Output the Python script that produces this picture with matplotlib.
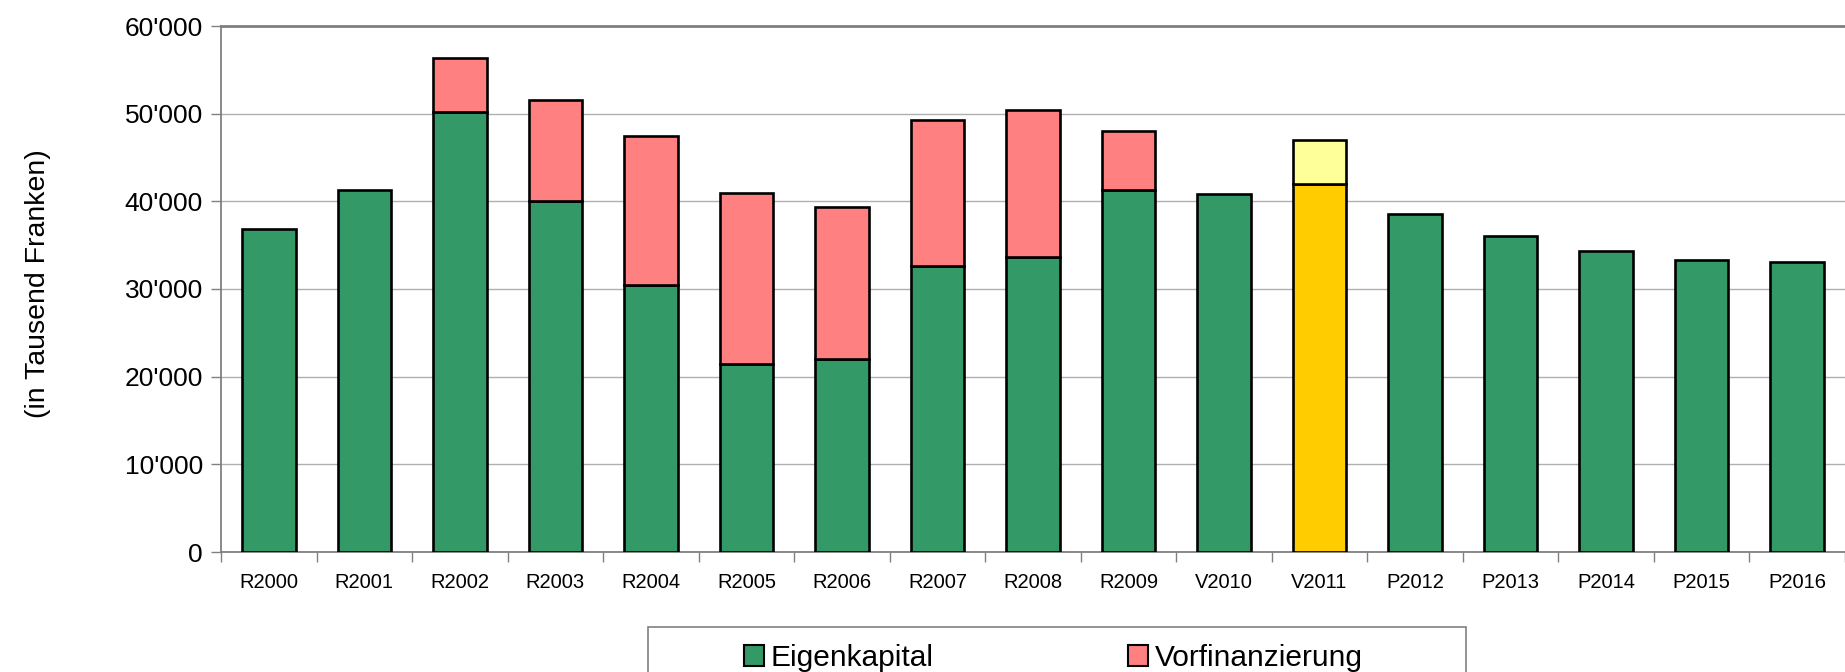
import matplotlib
matplotlib.use("Agg")
import matplotlib.pyplot as plt
from matplotlib.patches import Rectangle, Patch
from matplotlib.ticker import FuncFormatter
import numpy as np

plt.rcParams['font.family'] = ['Liberation Sans', 'DejaVu Sans']

# Jahre / Werte (in Tausend Franken)
labels = ["R2000", "R2001", "R2002", "R2003", "R2004", "R2005", "R2006", "R2007",
          "R2008", "R2009", "V2010", "V2011", "P2012", "P2013", "P2014", "P2015", "P2016"]
eigenkapital = [36800, 41300, 50200, 40000, 30500, 21500, 22000, 32600,
                33700, 41300, 40800, 42000, 38500, 36000, 34300, 33300, 33100]
vorfinanzierung = [0, 0, 6100, 11600, 17000, 19500, 17400, 16700,
                   16700, 6700, 0, 5000, 0, 0, 0, 0, 0]

green = "#339966"
pink = "#FF8080"
orange = "#FFCC00"
yellow = "#FFFF99"

# V2011 ist farblich hervorgehoben
col_ek = [orange if l == "V2011" else green for l in labels]
col_vf = [yellow if l == "V2011" else pink for l in labels]

W, H = 1845, 672
fig = plt.figure(figsize=(W / 100, H / 100), dpi=100)
ax = fig.add_axes([221 / W, 1 - 552 / H, 1 - 221 / W, (552 - 26) / H])

x = np.arange(len(labels))
ax.bar(x, eigenkapital, width=0.56, color=col_ek, edgecolor="black", linewidth=1.9, zorder=3)
vf_x = [i for i in x if vorfinanzierung[i] > 0]
ax.bar(vf_x, [vorfinanzierung[i] for i in vf_x], width=0.56,
       bottom=[eigenkapital[i] for i in vf_x],
       color=[col_vf[i] for i in vf_x], edgecolor="black", linewidth=1.9, zorder=3)

ax.set_xlim(-0.5, -0.5 + (W - 221) / 96.5)
ax.set_ylim(0, 60000)
ax.set_yticks(range(0, 60001, 10000))
ax.yaxis.set_major_formatter(FuncFormatter(lambda v, p: "0" if v == 0 else f"{int(v):,}".replace(",", "'")))
ax.set_xticks(x)
ax.set_xticklabels(labels)
ax.set_xticks(np.arange(-0.5, len(labels) + 0.5, 1), minor=True)
ax.tick_params(axis="x", which="major", length=0, labelsize=14.5, pad=15)
ax.tick_params(axis="x", which="minor", length=7, color="#808080", width=1)
ax.tick_params(axis="y", length=7, color="#808080", width=1, labelsize=19, pad=6)

ax.grid(axis="y", color="#b0b0b0", linewidth=1, zorder=0)
for s in ["left", "bottom", "top"]:
    ax.spines[s].set_color("#808080")
    ax.spines[s].set_linewidth(1.3)
ax.spines["top"].set_linewidth(2)
ax.spines["right"].set_visible(False)

fig.text(38 / W, 1 - 284 / H, "(in Tausend Franken)", rotation=90, fontsize=20.5,
         ha="center", va="center")

# Legende mit eigenem Rahmen
box_top = 1 - 627 / H
fig.patches.append(Rectangle((648 / W, -0.1), (1466 - 648) / W, box_top + 0.1,
                             transform=fig.transFigure, facecolor="white",
                             edgecolor="#808080", linewidth=1.2))
handles = [Patch(facecolor=green, edgecolor="black", linewidth=1.5),
           Patch(facecolor=pink, edgecolor="black", linewidth=1.5)]
fig.legend(handles, ["Eigenkapital", "Vorfinanzierung"], loc="upper center",
           bbox_to_anchor=(1053 / W, 1 - 629 / H), ncol=2, frameon=False,
           fontsize=21.5, handlelength=0.7, handleheight=0.7, handletextpad=0.2,
           columnspacing=6.5, borderpad=0)

fig.savefig("out.png", dpi=100)
